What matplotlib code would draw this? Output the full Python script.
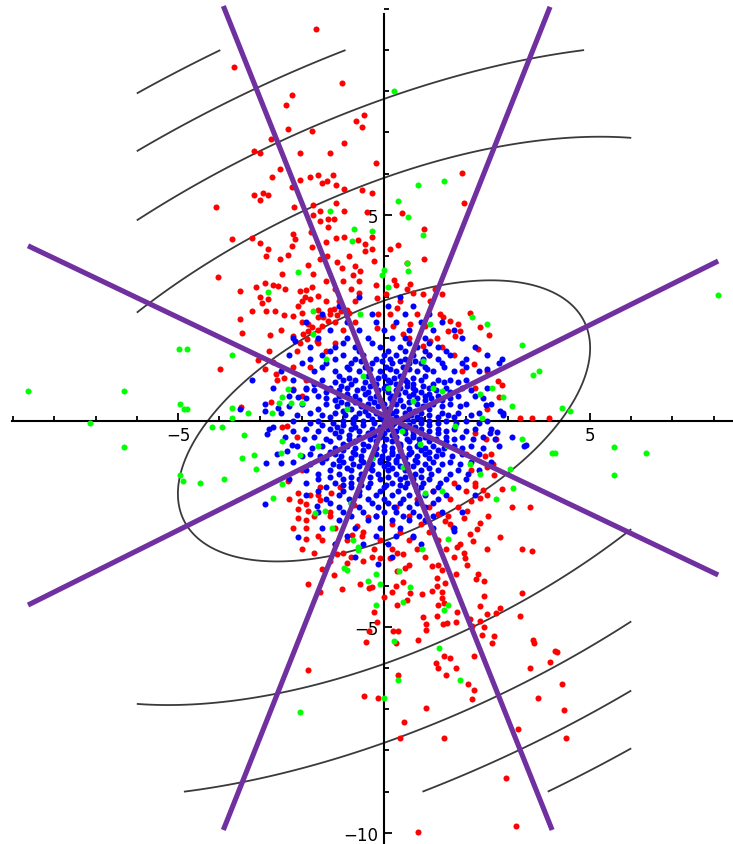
import matplotlib
matplotlib.use("Agg")
import matplotlib.pyplot as plt
from matplotlib.ticker import MultipleLocator
import numpy as np

# quadratic form  a*x^2 + b*x*y + c*y^2  and its contour levels
QA, QB, QC = 1.0, -1.52, 2.15
LEVELS = [18.3, 74.8, 131.3, 187.8, 244.3]
CONTOUR_X = (-6.0, 6.0)
CONTOUR_Y = (-9.0, 9.0)

# the four purple lines: (x0, y0, x1, y1)
LINES = [
    (-3.90, 10.07, 4.08, -9.93),
    (4.03, 10.05, -3.90, -9.93),
    (-8.64, 4.25, 8.11, -3.74),
    (-8.64, -4.47, 8.11, 3.88),
]

red_pts = [
    (-1.66, 9.51), (-3.64, 8.59), (-1.03, 8.20), (-2.24, 7.91), (-2.38, 7.67), (-2.34, 7.09),
    (-1.75, 7.04), (-0.49, 7.43), (-0.69, 7.28), (-0.54, 7.14), (-0.97, 6.75), (-2.74, 6.84),
    (-3.16, 6.55), (-3.01, 6.50), (-2.04, 6.50), (-1.31, 6.50), (-2.52, 6.12), (-2.73, 5.92),
    (-2.04, 5.85), (-1.80, 5.92), (-1.61, 5.97), (-1.51, 5.78), (-1.39, 5.83), (-1.23, 5.97),
    (-1.17, 5.73), (-2.24, 5.68), (-0.97, 5.63), (-3.16, 5.49), (-2.94, 5.53), (-2.81, 5.49),
    (-3.01, 5.37), (-4.08, 5.19), (-2.18, 5.19), (-1.72, 5.24), (-1.17, 5.29), (-0.54, 5.61),
    (-1.55, 5.10), (-1.72, 5.00), (-1.35, 4.90), (-1.21, 4.90), (-1.55, 4.86), (-1.35, 4.70),
    (-0.97, 5.10), (-0.42, 5.07), (-3.70, 4.42), (-3.21, 4.43), (-3.01, 4.32), (-2.82, 4.17),
    (-2.20, 4.54), (-2.16, 4.42), (-2.24, 4.24), (-1.77, 4.58), (-1.75, 4.22), (-1.42, 4.35),
    (-1.17, 4.43), (-0.96, 4.46), (-0.62, 4.38), (-0.46, 4.30), (-2.86, 3.99), (-2.52, 3.93),
    (-2.32, 4.03), (-1.84, 3.79), (-1.55, 3.93), (-1.39, 4.00), (-1.15, 3.85), (-1.03, 3.71),
    (-0.86, 4.01), (-0.70, 3.77), (-0.58, 3.65), (-0.46, 4.13), (-4.04, 3.49), (-2.48, 3.57),
    (-1.72, 3.57), (-0.75, 3.53),
    (-0.20, 6.26), (1.89, 6.02), (-0.28, 5.53), (1.94, 5.29), (0.44, 5.04), (0.97, 4.66),
    (-0.28, 4.46), (0.34, 4.26), (0.15, 4.17), (-0.28, 4.17), (0.97, 3.93), (0.57, 3.83),
    (-0.24, 3.88), (0.24, 3.42),
    (-3.50, 3.16), (-3.11, 3.25), (-2.89, 3.35), (-2.69, 3.30), (-2.58, 3.28), (-3.01, 3.01),
    (-2.81, 2.95), (-2.97, 2.85), (-3.21, 2.67), (-2.86, 2.67), (-2.65, 2.67), (-3.50, 2.47),
    (-3.45, 2.13), (-2.43, 2.57), (-2.22, 2.55), (-2.00, 2.61), (-2.04, 3.16), (-1.92, 3.01),
    (-1.80, 2.95), (-2.00, 2.91), (-1.90, 3.17), (-1.74, 3.24), (-1.61, 3.03), (-2.09, 2.79),
    (-1.84, 2.35), (-1.75, 2.27), (-1.84, 2.18), (-1.96, 2.10), (-2.77, 2.09), (-2.22, 2.06),
    (-1.47, 2.51), (-1.35, 2.43), (-1.51, 2.31), (-1.59, 2.51), (-1.30, 2.60), (-1.14, 2.56),
    (-1.22, 2.72), (-1.05, 2.67), (-0.85, 2.63), (-2.05, 1.90), (-1.86, 1.98), (-1.63, 1.94),
    (-3.98, 1.25), (-3.07, 1.47), (-2.89, 1.25), (-2.69, 1.42), (-2.63, 1.15), (-2.42, 1.05),
    (-3.46, 0.34), (-2.74, 0.47), (-2.22, 0.77), (-2.47, -0.16), (-2.36, -0.12), (-2.32, -1.46),
    (-2.08, -1.74), (-2.04, -1.94), (-2.08, -2.14), (-2.08, -2.35), (-1.90, -2.02), (-1.84, -2.18),
    (-1.55, -1.93), (-1.06, -1.60), (-1.55, -1.60), (-1.28, -1.76), (-1.90, -2.87),
    (-1.30, -2.22), (-0.73, -2.03), (-0.66, -2.55), (-0.40, -2.33), (-0.77, -2.77),
    (-0.25, -3.11), (-1.15, -3.22), (-0.90, -3.45), (-0.54, -2.80),
    (-2.3, -1.9), (-1.9, -2.4), (-2.2, -2.6), (-1.6, -2.8), (-1.2, -3.0), (-2.0, -3.1),
    (-0.8, -3.3), (-1.5, -3.6),
    (-1.4, 3.4), (-1.0, 3.4), (-0.6, 3.4), (-2.4, 3.2), (-1.2, 3.2), (-0.8, 3.2),
    (-1.4, 2.9), (-1.1, 2.9), (-0.7, 2.9), (-1.6, 2.7), (-1.3, 2.7), (-0.9, 2.7),
    (-2.0, 2.4), (-1.2, 2.4), (-0.7, 2.4), (-2.5, 2.2), (-1.6, 2.2), (-1.0, 2.2),
    (-1.6, 1.9), (-1.2, 1.9), (-2.8, 1.7), (-2.1, 1.7), (-1.4, 1.7), (-2.2, 1.3),
    (-1.8, 1.3), (-2.6, 1.0), (-1.9, 1.0), (-2.0, 0.6), (-2.1, -0.4), (-2.0, -1.2),
    (-1.8, -1.8), (-1.6, -1.8), (-1.7, -2.3), (-1.3, -2.3), (-1.9, -2.6), (-1.2, -2.6),
    (-1.5, -2.9), (-0.9, -2.9), (-1.7, -3.2), (-1.0, -3.2), (-1.3, -3.4), (-0.5, -3.4),
    (0.95, 3.07), (1.24, 3.20), (1.40, 3.07), (1.12, 2.91), (1.36, 2.59), (1.44, 2.51),
    (1.60, 2.43), (1.56, 2.18), (1.80, 2.35), (1.84, 2.18), (1.72, 2.06), (1.28, 2.02),
    (1.12, 1.94), (0.95, 1.82), (0.63, 2.35), (0.47, 2.10), (0.15, 2.59), (0.23, 2.31),
    (0.39, 2.91), (0.31, 2.75), (-0.18, 2.99), (-0.14, 2.59), (-0.18, 2.26), (0.06, 3.07),
    (0.55, 3.20), (0.63, 3.32), (-0.2, 3.3), (0.3, 3.3), (0.7, 3.1), (-0.6, 3.1),
    (0.8, 2.6), (1.0, 2.3), (0.6, 2.0), (1.4, 1.8), (1.1, 1.6), (1.7, 1.6),
    (2.09, 2.63), (2.33, 2.28), (2.56, 2.09), (2.27, 1.74), (2.18, 1.38), (2.77, 0.97),
    (2.86, 0.87), (2.80, 0.57), (3.30, 0.07), (3.60, 0.07), (4.01, 0.07), (2.48, -0.44),
    (2.72, -0.44), (2.45, -0.85), (2.65, -1.05), (2.49, -1.13), (2.67, -1.31), (2.86, -1.66),
    (3.10, -2.10), (3.54, -2.10), (2.21, -1.58), (2.41, -1.68), (2.51, -1.80), (2.33, -1.86),
    (1.9, 1.2), (2.5, 1.2), (2.2, 0.8), (2.5, 0.3), (2.2, -0.3), (2.0, -0.8), (2.6, -0.8),
    (2.1, -1.2), (1.7, -1.5), (2.2, -1.5), (1.2, -1.7), (2.0, -1.7), (0.8, -1.9),
    (1.6, -1.9), (2.1, -1.95), (0.3, -2.1), (1.1, -2.1), (1.8, -2.1), (-0.2, -2.3),
    (0.6, -2.3), (1.3, -2.25), (0.2, -2.5), (0.9, -2.5), (-0.5, -2.7), (0.4, -2.7),
    (1.1, -2.7), (-0.1, -2.9), (0.6, -2.9), (1.3, -2.9), (0.2, -3.1), (0.8, -3.1),
    (1.5, -3.1), (-0.3, -3.3), (1.0, -3.3), (1.7, -3.3), (0.6, -3.5), (1.3, -3.5),
    (2.53, -2.31), (2.33, -2.47), (2.25, -2.63), (2.01, -2.18), (1.93, -2.35), (2.09, -2.75),
    (2.17, -2.91), (1.68, -2.59), (1.84, -2.99), (1.76, -3.07), (1.93, -3.20), (1.97, -3.32),
    (1.56, -2.31), (1.48, -2.43), (1.60, -2.51), (0.47, -3.24), (0.31, -3.20), (0.15, -3.32),
    (-0.10, -3.32), (3.34, -3.11), (3.58, -3.17), (2.49, -3.11), (2.82, -2.83),
    (-1.21, -3.75), (-1.84, -3.95), (-1.55, -4.16), (-1.03, -4.09), (-0.59, -3.95),
    (-0.36, -4.05), (-0.44, -5.36), (-0.37, -5.10), (-1.84, -6.04), (-0.49, -6.67),
    (-0.30, -4.03), (0.00, -4.27), (-0.24, -4.64), (-0.16, -4.88), (0.32, -3.65), (0.51, -3.57),
    (0.28, -4.00), (0.45, -3.91), (0.20, -4.16), (0.63, -4.17), (0.57, -4.34), (0.32, -4.48),
    (0.91, -4.20), (1.16, -3.53), (1.40, -3.61), (1.75, -3.71), (2.01, -3.49), (2.29, -3.71),
    (2.23, -3.85), (2.43, -3.89), (2.43, -4.24), (1.28, -3.81), (1.48, -3.93), (1.28, -4.01),
    (1.16, -4.13), (1.40, -4.16), (1.40, -4.30), (1.46, -4.42), (1.32, -4.46), (1.78, -4.64),
    (1.75, -4.89), (1.54, -4.90), (1.29, -4.73), (1.44, -4.92), (0.95, -4.77), (1.02, -4.94),
    (1.02, -5.07), (0.83, -5.31), (0.21, -5.10), (0.35, -5.10), (0.29, -5.40), (2.09, -4.82),
    (2.13, -4.98), (2.33, -4.50), (2.51, -4.68), (2.73, -4.66), (2.82, -4.54), (2.33, -4.86),
    (2.43, -5.00), (2.37, -5.19), (2.67, -5.21), (2.61, -5.40), (3.34, -4.17), (3.30, -4.73),
    (3.62, -5.31), (3.64, -5.40), (4.15, -5.59), (4.03, -5.85), (3.54, -5.99), (3.73, -6.72),
    (3.26, -7.49), (2.95, -8.66), (3.20, -9.83), (0.83, -9.97), (1.46, -5.70), (1.60, -5.75),
    (1.25, -5.87), (1.30, -6.00), (1.50, -6.18), (1.75, -6.00), (2.03, -6.38), (2.19, -6.52),
    (2.13, -6.76), (2.19, -5.71), (0.34, -6.17), (-0.15, -6.72), (1.02, -6.96), (0.49, -7.30),
    (0.39, -7.69), (1.46, -7.69), (4.19, -5.61), (4.31, -6.38), (4.37, -7.01), (4.42, -7.69),
]

blue_pts = [
    (-2.16, 1.94), (-3.21, 1.00), (-3.50, 0.28), (-2.89, 0.23), (-2.58, 0.32), (-2.09, 0.57),
    (-1.90, 0.77), (-2.69, -0.16), (-2.85, -0.32), (-2.24, -0.58), (-2.36, -0.73),
    (-2.86, -1.03), (-2.50, -1.03), (-2.89, -2.01), (-2.08, -2.82), (-0.15, -3.47),
    (2.86, 1.50), (2.49, 1.25), (2.48, 0.38), (2.82, 0.24), (2.88, 0.14), (2.57, -0.30),
    (2.75, -0.26), (3.45, -0.59), (0.71, -2.83), (1.70, -2.67), (-1.63, -2.06),
]

# blue core, read row by row: (y, [x, ...])
blue_rows = [
    (3.0, [-0.6, 0.4]),
    (2.8, [-1.1, 0.1, 0.7]),
    (2.6, [-1.5, -0.3, 0.5, 1.1]),
    (2.4, [-1.9, -0.9, -0.2, 0.3, 0.9, 1.4]),
    (2.2, [-1.3, -0.6, 0.0, 0.6, 1.2, 1.7]),
    (2.0, [-2.2, -1.6, -0.9, -0.4, 0.2, 0.5, 1.0, 1.9]),
    (1.8, [-1.8, -1.2, -0.7, -0.1, 0.4, 0.8, 1.3, 2.2]),
    (1.6, [-2.3, -1.5, -1.0, -0.5, 0.0, 0.3, 0.7, 1.1, 1.6, 2.5]),
    (1.4, [-2.0, -1.4, -0.8, -0.3, 0.2, 0.6, 0.9, 1.4, 1.9, 2.8]),
    (1.2, [-2.5, -1.7, -1.2, -0.6, -0.1, 0.3, 0.8, 1.2, 1.7, 2.3]),
    (1.1, [-1.1, -0.4, 0.0, 0.4, 1.0]),
    (1.0, [-2.2, -1.5, -1.0, -0.7, -0.3, 0.1, 0.5, 0.9, 1.3, 1.6, 2.0]),
    (0.9, [-1.7, -0.8, -0.2, 0.3, 0.7, 1.2]),
    (0.8, [-2.7, -1.9, -1.3, -0.9, -0.5, 0.0, 0.4, 0.7, 1.1, 1.5, 1.9, 2.5]),
    (0.7, [-1.4, -0.4, 0.1, 0.5, 0.9, 1.6]),
    (0.6, [-2.3, -1.6, -1.1, -0.7, -0.2, 0.2, 0.6, 1.0, 1.3, 1.8, 2.2]),
    (0.5, [-1.2, -0.6, -0.1, 0.4, 1.0, 1.4]),
    (0.4, [-2.9, -2.0, -1.4, -0.9, -0.4, 0.0, 0.3, 0.8, 1.2, 1.6, 2.0, 2.6]),
    (0.3, [-1.6, -0.8, -0.3, 0.1, 0.6, 1.1]),
    (0.2, [-2.5, -1.8, -1.2, -0.6, -0.2, 0.2, 0.5, 0.9, 1.4, 1.8, 2.3, 2.9]),
    (0.1, [-1.3, -0.7, -0.1, 0.3, 0.8, 1.3, 1.7]),
    (0.0, [-2.2, -1.6, -1.0, -0.5, 0.0, 0.4, 0.7, 1.1, 1.5, 2.0, 2.5]),
    (-0.1, [-1.5, -1.0, -0.5, 0.2, 0.6, 1.1]),
    (-0.2, [-2.8, -1.9, -1.3, -0.8, -0.3, 0.1, 0.5, 0.9, 1.3, 1.7, 2.2, 2.6]),
    (-0.3, [-1.2, -0.4, 0.0, 0.5, 0.9, 1.3]),
    (-0.4, [-2.4, -1.7, -1.1, -0.6, -0.1, 0.3, 0.7, 1.0, 1.5, 1.9, 2.4, 3.1]),
    (-0.5, [-1.3, -0.7, -0.2, 0.2, 0.6, 1.1, 1.5]),
    (-0.6, [-2.1, -1.5, -0.9, -0.4, 0.0, 0.4, 0.8, 1.2, 1.7, 2.1, 2.8, 3.4]),
    (-0.7, [-1.0, -0.5, 0.0, 0.4, 0.9, 1.3]),
    (-0.8, [-2.6, -1.8, -1.2, -0.7, -0.2, 0.2, 0.6, 1.0, 1.4, 1.9, 2.3]),
    (-0.9, [-1.4, -0.8, -0.3, 0.1, 0.5, 1.1]),
    (-1.0, [-2.2, -1.5, -1.0, -0.5, -0.1, 0.3, 0.8, 1.2, 1.6, 2.1, 2.6]),
    (-1.1, [-1.1, -0.6, 0.0, 0.4, 0.7]),
    (-1.2, [-1.9, -1.3, -0.8, -0.3, 0.1, 0.5, 0.9, 1.3, 1.8, 2.3]),
    (-1.4, [-2.3, -1.6, -1.0, -0.6, -0.1, 0.4, 0.7, 1.1, 1.5, 2.0]),
    (-1.6, [-1.4, -0.8, -0.4, 0.0, 0.5, 0.9, 1.3, 1.8]),
    (-1.8, [-1.9, -1.1, -0.6, -0.2, 0.2, 0.6, 1.0, 1.5, 2.2]),
    (-2.0, [-1.3, -0.8, -0.3, 0.1, 0.4, 0.8, 1.2]),
    (-2.2, [-1.6, -1.0, -0.5, 0.0, 0.3, 0.7, 1.4, 1.9]),
    (-2.4, [-1.1, -0.4, 0.2, 0.6, 1.0]),
    (-2.6, [-1.5, -0.7, -0.1, 0.4, 1.2, 1.7]),
    (-2.8, [-0.9, -0.2, 0.3, 0.7]),
    (-3.0, [-1.2, -0.5, 0.1, 0.9]),
    (-3.3, [-0.7, 0.2]),
]

# second pass over the dense middle, between the rows above
blue_rows2 = [
    (1.9, [-1.0, -0.3, 0.6, 1.1]),
    (1.7, [-1.3, -0.6, 0.1, 0.5, 1.0, 1.5]),
    (1.5, [-1.8, -1.2, -0.7, -0.2, 0.15, 0.5, 0.95, 1.3, 2.0]),
    (1.3, [-1.5, -0.9, -0.45, 0.05, 0.45, 1.0, 1.45, 2.0]),
    (0.95, [-1.2, -0.45, 0.15, 0.55, 1.45, 1.8]),
    (0.75, [-2.2, -1.7, -1.1, -0.65, -0.15, 0.3, 0.75, 1.25, 2.1]),
    (0.55, [-1.9, -1.4, -0.85, -0.35, 0.15, 0.8, 1.15, 1.6, 2.4]),
    (0.35, [-2.3, -1.15, -0.55, -0.15, 0.45, 0.95, 1.4, 1.85]),
    (0.15, [-2.1, -1.5, -0.95, -0.4, 0.05, 0.65, 1.1, 1.55, 2.1]),
    (-0.05, [-1.8, -1.25, -0.75, -0.25, 0.25, 0.9, 1.3, 1.75, 2.3]),
    (-0.25, [-2.2, -1.6, -1.05, -0.6, 0.3, 0.7, 1.1, 1.5, 2.0]),
    (-0.45, [-1.95, -1.4, -0.85, -0.35, 0.05, 0.55, 0.85, 1.25, 1.7, 2.15, 2.7]),
    (-0.65, [-1.75, -1.2, -0.7, -0.2, 0.2, 0.6, 1.0, 1.45, 1.9, 2.4]),
    (-0.85, [-2.0, -1.55, -1.05, -0.55, -0.05, 0.35, 0.8, 1.25, 1.65]),
    (-1.05, [-1.8, -1.25, -0.75, -0.3, 0.1, 0.55, 1.0, 1.4, 1.85]),
    (-1.3, [-1.6, -1.1, -0.55, -0.15, 0.3, 0.75, 1.15, 1.6, 2.05]),
    (-1.5, [-1.9, -1.2, -0.8, -0.35, 0.2, 0.55, 0.95, 1.35]),
    (-1.7, [-1.6, -1.0, -0.6, -0.1, 0.35, 0.8, 1.2]),
    (-1.9, [-1.4, -0.85, -0.4, 0.0, 0.45, 0.85, 1.3]),
    (-2.1, [-1.1, -0.6, -0.15, 0.25, 0.6, 1.0]),
    (-2.3, [-0.8, -0.2, 0.45, 0.85, 1.2]),
]

# third pass: the nearly solid centre
blue_rows3 = [
    (1.45, [-0.55, -0.05, 0.4, 0.75]),
    (1.25, [-0.85, -0.35, 0.15, 0.6, 1.05]),
    (1.05, [-0.85, -0.15, 0.25, 0.7]),
    (0.85, [-1.05, -0.35, 0.05, 0.55, 0.95]),
    (0.65, [-0.9, -0.45, 0.35, 0.7, 1.1]),
    (0.45, [-1.05, -0.7, -0.25, 0.2, 0.6]),
    (0.25, [-1.0, -0.45, 0.3, 0.75]),
    (0.05, [-0.75, -0.3, 0.15, 0.55, 0.9]),
    (-0.15, [-1.15, -0.7, -0.1, 0.4, 0.75]),
    (-0.35, [-0.85, -0.25, 0.2, 0.7]),
    (-0.55, [-1.0, -0.5, 0.4, 0.85]),
    (-0.75, [-1.3, -0.75, -0.25, 0.2, 0.65, 1.1]),
    (-0.95, [-1.1, -0.55, -0.1, 0.3, 0.75]),
    (-1.15, [-0.9, -0.35, 0.2, 0.55, 1.1]),
    (-1.35, [-1.3, -0.8, -0.35, 0.1, 0.5, 0.9]),
    (-1.55, [-1.0, -0.55, 0.05, 0.4, 0.75]),
]

green_pts = [
    (-1.31, 5.10), (-0.73, 4.66), (-0.78, 4.36), (-2.09, 3.62), (0.24, 8.00), (0.83, 5.73),
    (1.46, 5.83), (0.34, 5.33), (0.58, 4.94), (0.94, 4.52), (-0.28, 4.60), (0.55, 3.83),
    (0.58, 3.63), (0.00, 3.67), (-0.06, 3.54),
    (-4.98, 1.74), (-4.78, 1.74), (-8.64, 0.72), (-6.31, 0.72), (-4.95, 0.42), (-4.85, 0.28),
    (-7.14, -0.06), (-6.31, -0.64), (-4.95, -1.32), (-4.87, -1.46),
    (8.10, 3.05), (4.31, 0.32), (4.51, 0.23), (5.58, -0.64), (6.35, -0.79), (5.58, -1.32),
    (4.15, -0.79),
    (-0.96, -3.57), (-0.91, -3.61), (-0.40, -3.89), (-2.04, -7.06),
    (-0.20, -3.71), (-0.10, -3.95), (-0.20, -4.48), (0.63, -4.04), (0.45, -4.39), (1.46, -4.58),
    (1.56, -4.48), (0.24, -5.35), (1.34, -5.51), (1.84, -6.28), (0.34, -6.28), (0.00, -6.72),
    (0.36, -3.65),
    (-2.82, 3.14), (-1.72, 2.67), (-1.72, 2.12), (-0.58, 2.59), (-3.70, 1.60), (-4.79, 0.28),
    (-3.70, 0.32), (-3.70, 0.08), (-3.31, 0.18), (-2.73, 0.20), (-2.56, 0.43), (-2.48, 0.59),
    (-2.34, 0.77), (-2.26, 0.44), (-2.00, 0.44), (-4.18, -0.16), (-3.94, -0.16), (-3.41, -0.35),
    (-2.47, -0.50), (-2.04, -0.83), (-2.49, -0.77), (-3.45, -0.89), (-3.15, -0.83),
    (-3.11, -1.17), (-3.88, -1.42), (-4.47, -1.51), (-2.48, -1.52), (-2.69, -1.86),
    (-1.67, -2.24), (-1.43, -2.18), (-1.27, -2.59), (-0.75, -2.90), (-0.62, -3.07),
    (-0.62, -3.13),
    (2.13, 2.52), (2.51, 2.36), (3.34, 1.84), (3.75, 1.21), (3.62, 1.12), (2.61, 0.81),
    (2.33, 0.66), (2.90, 0.57), (3.11, 0.37), (2.37, 0.07), (3.34, -0.44), (4.07, -0.78),
    (2.33, -1.29), (3.12, -1.62), (3.06, -1.17), (2.73, -1.90), (1.56, -2.87), (0.91, -3.10),
    (0.95, 1.46), (1.20, 0.81), (1.40, 0.73), (0.71, 0.49), (0.43, -0.24), (0.87, -0.55),
    (1.72, -0.12), (1.52, -0.61), (0.47, -1.13), (2.09, -1.05), (1.00, -1.74), (1.40, -1.70),
    (0.10, 3.24), (1.12, 2.35), (-0.5, 1.1), (-0.9, 0.3), (-0.3, -0.9), (-1.6, -0.6),
    (-0.8, -2.0), (-1.4, 1.5), (0.1, 0.8),
]

X_TICKS = [-5, 5]
Y_TICKS = [-10, -5, 5]

PURPLE = "#7030a0"


def main():
    fig = plt.figure(figsize=(7.33, 8.45), dpi=100)
    ax = fig.add_axes([0, 0, 1, 1])
    ax.set_xlim(-9.32, 8.47)
    ax.set_ylim(-10.27, 10.24)

    # contour lines of the quadratic form
    gx = np.linspace(*CONTOUR_X, 400)
    gy = np.linspace(*CONTOUR_Y, 600)
    X, Y = np.meshgrid(gx, gy)
    Z = QA * X**2 + QB * X * Y + QC * Y**2
    ax.contour(X, Y, Z, levels=LEVELS, colors="#3a3a3a", linewidths=1.3, zorder=1)

    rows = blue_rows + blue_rows2 + blue_rows3
    bx = [x for y, xs in rows for x in xs] + [p[0] for p in blue_pts]
    by = [y for y, xs in rows for x in xs] + [p[1] for p in blue_pts]

    ms = 19
    ax.scatter([p[0] for p in red_pts], [p[1] for p in red_pts], s=ms, c="#ff0000", lw=0, zorder=3)
    ax.scatter(bx, by, s=ms, c="#0000ff", lw=0, zorder=4)
    ax.scatter([p[0] for p in green_pts], [p[1] for p in green_pts], s=ms, c="#00ff00", lw=0, zorder=5)

    for x0, y0, x1, y1 in LINES:
        ax.plot([x0, x1], [y0, y1], color=PURPLE, lw=3.7, solid_capstyle="butt", zorder=6)

    # Mathematica-style axes through the origin
    for side in ("top", "right"):
        ax.spines[side].set_visible(False)
    ax.spines["left"].set_position(("data", 0))
    ax.spines["bottom"].set_position(("data", 0))
    ax.spines["bottom"].set_bounds(-9.03, 8.47)
    ax.spines["left"].set_bounds(-10.27, 9.88)
    for s in ("left", "bottom"):
        ax.spines[s].set_linewidth(1.5)
        ax.spines[s].set_zorder(2)
    ax.set_xticks(X_TICKS)
    ax.set_yticks(Y_TICKS)
    ax.set_xticklabels(["\u22125", "5"])
    ax.set_yticklabels(["\u221210", "\u22125", "5"])
    ax.xaxis.set_minor_locator(MultipleLocator(1))
    ax.yaxis.set_minor_locator(MultipleLocator(1))
    ax.tick_params(which="both", direction="in", width=1.3, labelsize=12, pad=4)
    ax.tick_params(which="major", length=6)
    ax.tick_params(which="minor", length=3.5)
    ax.patch.set_alpha(0)

    fig.savefig("out.png", dpi=100)


if __name__ == "__main__":
    main()
